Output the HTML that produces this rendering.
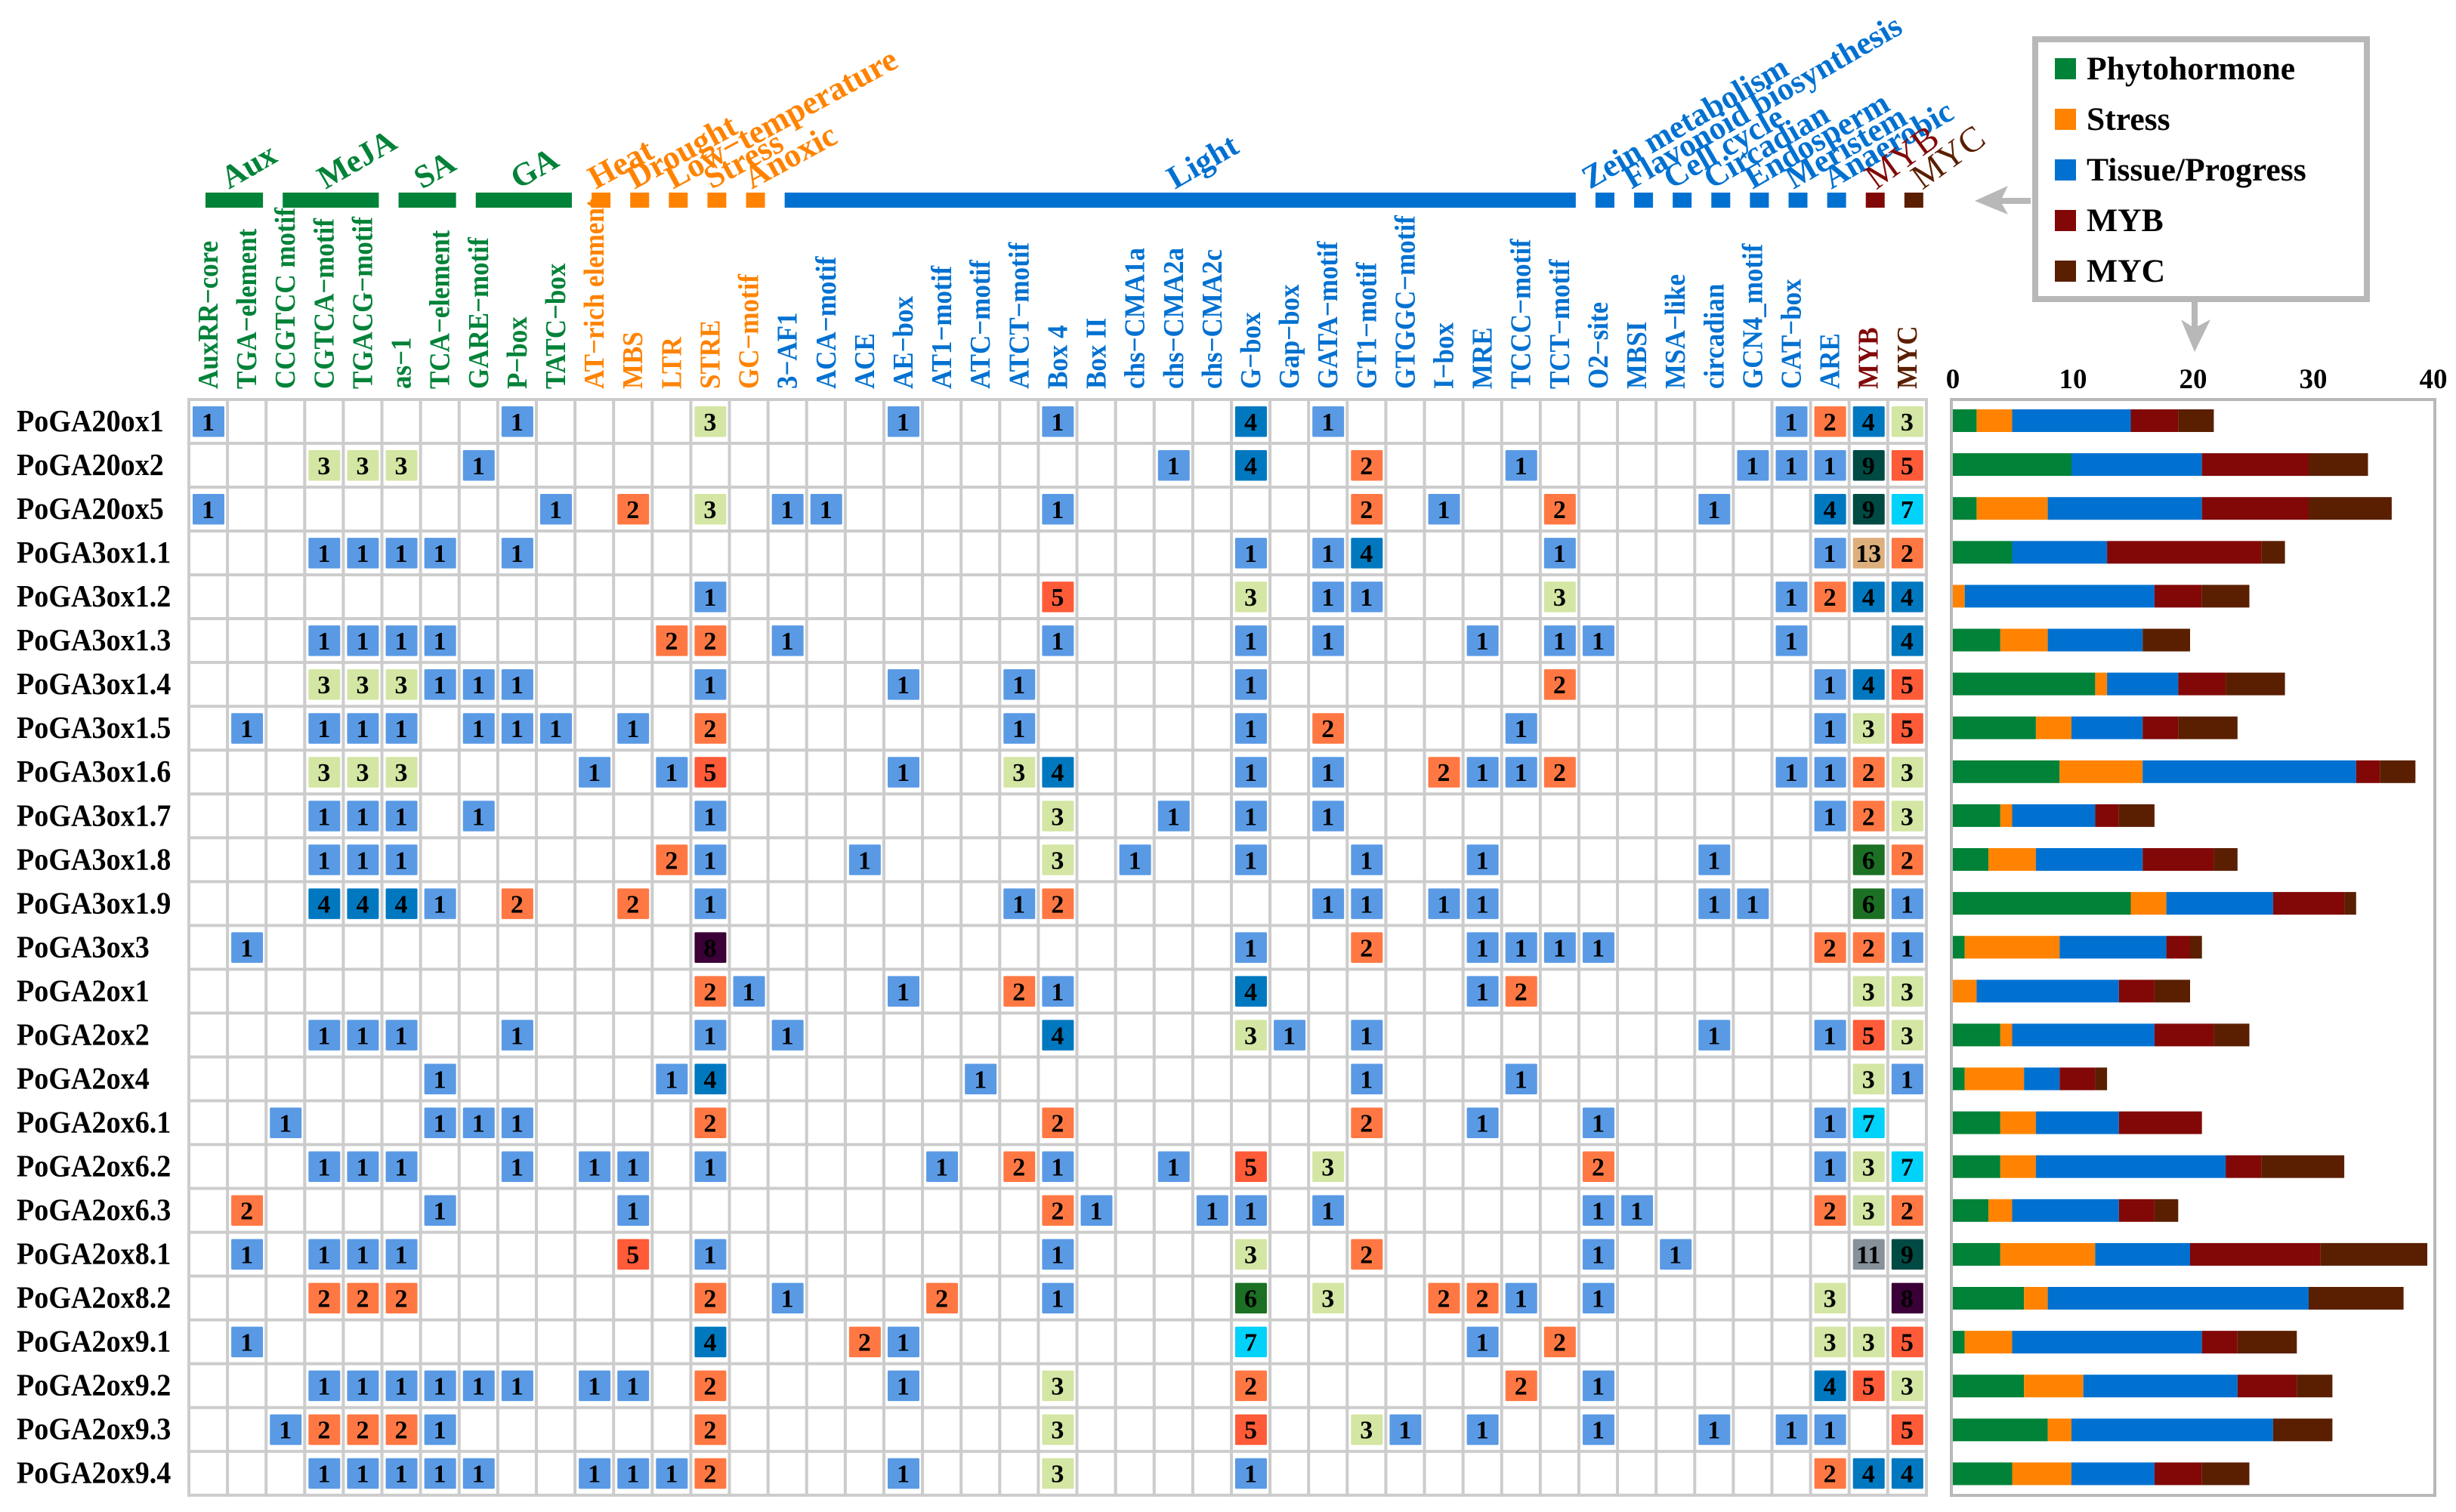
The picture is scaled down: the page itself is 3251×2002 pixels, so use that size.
<!DOCTYPE html>
<html lang="en">
<head>
<meta charset="utf-8">
<title>Cis-element heatmap and stacked bars</title>
<style>
html,body{margin:0;padding:0;background:#fff;width:3251px;height:2002px;overflow:hidden}
svg{display:block}
text{font-family:"Liberation Serif","Times New Roman",serif;font-weight:bold}
</style>
</head>
<body>
<svg id="chart" xmlns="http://www.w3.org/2000/svg" width="3251" height="2002" viewBox="0 0 3251 2002">
  <rect x="0" y="0" width="3251" height="2002" fill="#ffffff"/>
  <g id="gridLayer"></g>
  <g id="groupBarLayer"></g>
  <g id="groupLabelLayer"></g>
  <g id="colLabelLayer"></g>
  <g id="rowLabelLayer"></g>
  <g id="cellLayer"></g>
  <g id="barLayer"></g>
  <g id="tickLayer"></g>
  <rect x="2583" y="529" width="640" height="1451" fill="none" stroke="#b8b8b8" stroke-width="4"/>

  <polygon points="2614,266 2658,246 2650,262 2688,262 2688,270 2650,270 2658,284" fill="#b8b8b8"/>
  <polygon points="2905,466 2887,423 2901,432 2901,398 2909,398 2909,432 2926,423" fill="#b8b8b8"/>

  <g>
    <rect x="2694" y="52" width="439" height="344" fill="#ffffff" stroke="#b8b8b8" stroke-width="8"/>
    <rect x="2720" y="77" width="28" height="28" fill="#008238"/>
    <text x="2762" y="105" font-size="43.6" fill="#000">Phytohormone</text>
    <rect x="2720" y="144" width="28" height="28" fill="#ff8300"/>
    <text x="2762" y="172" font-size="43.6" fill="#000">Stress</text>
    <rect x="2720" y="211" width="28" height="28" fill="#0071d1"/>
    <text x="2762" y="239" font-size="43.6" fill="#000">Tissue/Progress</text>
    <rect x="2720" y="278" width="28" height="28" fill="#820808"/>
    <text x="2762" y="306" font-size="43.6" fill="#000">MYB</text>
    <rect x="2720" y="345" width="28" height="28" fill="#5a1f00"/>
    <text x="2762" y="373" font-size="43.6" fill="#000">MYC</text>
  </g>
</svg>

<script>
var genes = ["PoGA20ox1","PoGA20ox2","PoGA20ox5","PoGA3ox1.1","PoGA3ox1.2","PoGA3ox1.3","PoGA3ox1.4","PoGA3ox1.5","PoGA3ox1.6","PoGA3ox1.7","PoGA3ox1.8","PoGA3ox1.9","PoGA3ox3","PoGA2ox1","PoGA2ox2","PoGA2ox4","PoGA2ox6.1","PoGA2ox6.2","PoGA2ox6.3","PoGA2ox8.1","PoGA2ox8.2","PoGA2ox9.1","PoGA2ox9.2","PoGA2ox9.3","PoGA2ox9.4"];

var motifs = ["AuxRR\u2212core","TGA\u2212element","CCGTCC motif","CGTCA\u2212motif","TGACG\u2212motif","as\u22121","TCA\u2212element","GARE\u2212motif","P\u2212box","TATC\u2212box","AT\u2212rich element","MBS","LTR","STRE","GC\u2212motif","3\u2212AF1","ACA\u2212motif","ACE","AE\u2212box","AT1\u2212motif","ATC\u2212motif","ATCT\u2212motif","Box 4","Box II","chs\u2212CMA1a","chs\u2212CMA2a","chs\u2212CMA2c","G\u2212box","Gap\u2212box","GATA\u2212motif","GT1\u2212motif","GTGGC\u2212motif","I\u2212box","MRE","TCCC\u2212motif","TCT\u2212motif","O2\u2212site","MBSI","MSA\u2212like","circadian","GCN4_motif","CAT\u2212box","ARE","MYB","MYC"];

var motifCategory = ["p","p","p","p","p","p","p","p","p","p","s","s","s","s","s","t","t","t","t","t","t","t","t","t","t","t","t","t","t","t","t","t","t","t","t","t","t","t","t","t","t","t","t","b","c"];

var groupNames = ["Aux","MeJA","SA","GA","Heat","Drought","Low\u2212temperature","Stress","Anoxic","Light","Zein metabolism","Flavonoid biosynthesis","Cell cycle","Circadian","Endosperm","Meristem","Anaerobic","MYB","MYC"];
var groupSpans = [2,3,2,3,1,1,1,1,1,21,1,1,1,1,1,1,1,1,1];

var cellCounts = [
[1,0,0,0,0, 0,0,0,1,0, 0,0,0,3,0, 0,0,0,1,0, 0,0,1,0,0, 0,0,4,0,1, 0,0,0,0,0, 0,0,0,0,0, 0,1,2,4,3],
[0,0,0,3,3, 3,0,1,0,0, 0,0,0,0,0, 0,0,0,0,0, 0,0,0,0,0, 1,0,4,0,0, 2,0,0,0,1, 0,0,0,0,0, 1,1,1,9,5],
[1,0,0,0,0, 0,0,0,0,1, 0,2,0,3,0, 1,1,0,0,0, 0,0,1,0,0, 0,0,0,0,0, 2,0,1,0,0, 2,0,0,0,1, 0,0,4,9,7],
[0,0,0,1,1, 1,1,0,1,0, 0,0,0,0,0, 0,0,0,0,0, 0,0,0,0,0, 0,0,1,0,1, 4,0,0,0,0, 1,0,0,0,0, 0,0,1,13,2],
[0,0,0,0,0, 0,0,0,0,0, 0,0,0,1,0, 0,0,0,0,0, 0,0,5,0,0, 0,0,3,0,1, 1,0,0,0,0, 3,0,0,0,0, 0,1,2,4,4],
[0,0,0,1,1, 1,1,0,0,0, 0,0,2,2,0, 1,0,0,0,0, 0,0,1,0,0, 0,0,1,0,1, 0,0,0,1,0, 1,1,0,0,0, 0,1,0,0,4],
[0,0,0,3,3, 3,1,1,1,0, 0,0,0,1,0, 0,0,0,1,0, 0,1,0,0,0, 0,0,1,0,0, 0,0,0,0,0, 2,0,0,0,0, 0,0,1,4,5],
[0,1,0,1,1, 1,0,1,1,1, 0,1,0,2,0, 0,0,0,0,0, 0,1,0,0,0, 0,0,1,0,2, 0,0,0,0,1, 0,0,0,0,0, 0,0,1,3,5],
[0,0,0,3,3, 3,0,0,0,0, 1,0,1,5,0, 0,0,0,1,0, 0,3,4,0,0, 0,0,1,0,1, 0,0,2,1,1, 2,0,0,0,0, 0,1,1,2,3],
[0,0,0,1,1, 1,0,1,0,0, 0,0,0,1,0, 0,0,0,0,0, 0,0,3,0,0, 1,0,1,0,1, 0,0,0,0,0, 0,0,0,0,0, 0,0,1,2,3],
[0,0,0,1,1, 1,0,0,0,0, 0,0,2,1,0, 0,0,1,0,0, 0,0,3,0,1, 0,0,1,0,0, 1,0,0,1,0, 0,0,0,0,1, 0,0,0,6,2],
[0,0,0,4,4, 4,1,0,2,0, 0,2,0,1,0, 0,0,0,0,0, 0,1,2,0,0, 0,0,0,0,1, 1,0,1,1,0, 0,0,0,0,1, 1,0,0,6,1],
[0,1,0,0,0, 0,0,0,0,0, 0,0,0,8,0, 0,0,0,0,0, 0,0,0,0,0, 0,0,1,0,0, 2,0,0,1,1, 1,1,0,0,0, 0,0,2,2,1],
[0,0,0,0,0, 0,0,0,0,0, 0,0,0,2,1, 0,0,0,1,0, 0,2,1,0,0, 0,0,4,0,0, 0,0,0,1,2, 0,0,0,0,0, 0,0,0,3,3],
[0,0,0,1,1, 1,0,0,1,0, 0,0,0,1,0, 1,0,0,0,0, 0,0,4,0,0, 0,0,3,1,0, 1,0,0,0,0, 0,0,0,0,1, 0,0,1,5,3],
[0,0,0,0,0, 0,1,0,0,0, 0,0,1,4,0, 0,0,0,0,0, 1,0,0,0,0, 0,0,0,0,0, 1,0,0,0,1, 0,0,0,0,0, 0,0,0,3,1],
[0,0,1,0,0, 0,1,1,1,0, 0,0,0,2,0, 0,0,0,0,0, 0,0,2,0,0, 0,0,0,0,0, 2,0,0,1,0, 0,1,0,0,0, 0,0,1,7,0],
[0,0,0,1,1, 1,0,0,1,0, 1,1,0,1,0, 0,0,0,0,1, 0,2,1,0,0, 1,0,5,0,3, 0,0,0,0,0, 0,2,0,0,0, 0,0,1,3,7],
[0,2,0,0,0, 0,1,0,0,0, 0,1,0,0,0, 0,0,0,0,0, 0,0,2,1,0, 0,1,1,0,1, 0,0,0,0,0, 0,1,1,0,0, 0,0,2,3,2],
[0,1,0,1,1, 1,0,0,0,0, 0,5,0,1,0, 0,0,0,0,0, 0,0,1,0,0, 0,0,3,0,0, 2,0,0,0,0, 0,1,0,1,0, 0,0,0,11,9],
[0,0,0,2,2, 2,0,0,0,0, 0,0,0,2,0, 1,0,0,0,2, 0,0,1,0,0, 0,0,6,0,3, 0,0,2,2,1, 0,1,0,0,0, 0,0,3,0,8],
[0,1,0,0,0, 0,0,0,0,0, 0,0,0,4,0, 0,0,2,1,0, 0,0,0,0,0, 0,0,7,0,0, 0,0,0,1,0, 2,0,0,0,0, 0,0,3,3,5],
[0,0,0,1,1, 1,1,1,1,0, 1,1,0,2,0, 0,0,0,1,0, 0,0,3,0,0, 0,0,2,0,0, 0,0,0,0,2, 0,1,0,0,0, 0,0,4,5,3],
[0,0,1,2,2, 2,1,0,0,0, 0,0,0,2,0, 0,0,0,0,0, 0,0,3,0,0, 0,0,5,0,0, 3,1,0,1,0, 0,1,0,0,1, 0,1,1,0,5],
[0,0,0,1,1, 1,1,1,0,0, 1,1,1,2,0, 0,0,0,1,0, 0,0,3,0,0, 0,0,1,0,0, 0,0,0,0,0, 0,0,0,0,0, 0,0,2,4,4]
];

var phytohormone = [2,10,2,5,0,4,12,7,9,4,3,15,1,0,4,1,4,4,3,4,6,1,6,8,5];
var stress       = [3,0,6,0,1,4,1,3,7,1,4,3,8,2,1,5,3,3,2,8,2,4,5,2,5];
var tissue       = [10,11,13,8,16,8,6,6,18,7,9,9,9,12,12,3,7,16,9,8,22,16,13,17,7];
var myb          = [4,9,9,13,4,0,4,3,2,2,6,6,2,3,5,3,7,3,3,11,0,3,5,0,4];
var myc          = [3,5,7,2,4,4,5,5,3,3,2,1,1,3,3,1,0,7,2,9,8,5,3,5,4];

var seriesNames = ["phytohormone","stress","tissue","myb","myc"];
var tickValues = [0,10,20,30,40];

var NS = "http://www.w3.org/2000/svg";
var categoryColors = {p:"#008238", s:"#ff8300", t:"#0071d1", b:"#820808", c:"#5a1f00"};
var seriesColors = ["#008238","#ff8300","#0071d1","#820808","#5a1f00"];
var cellColors = {1:"#5a9ae5",2:"#ff7843",3:"#d3e6a3",4:"#0078c0",5:"#ff5b38",6:"#1b7024",7:"#00d2fa",8:"#3a0037",9:"#004a44",11:"#87919a",13:"#dcaf7d"};
var groupColors = ["p","p","p","p","s","s","s","s","s","t","t","t","t","t","t","t","t","b","c"];
var groupLabelStyle = {
  p:{size:43, angle:-30, weight:"bold", y:251},
  s:{size:44, angle:-28.5, weight:"bold", y:251},
  t:{size:43, angle:-30, weight:"bold", y:251},
  b:{size:47, angle:-36, weight:"normal", y:252},
  c:{size:47, angle:-36, weight:"normal", y:252}
};
var groupLabelShift = [-7,-7,-7,-7,-7,-7,-7,-7,-5,-7,-20,-16,-14,-12,-9,-6,-7,1,11];

var gridLeft = 250, gridTop = 529, colStep = 51.11, rowStep = 58.03;
function xCol(i){ return gridLeft + colStep * i; }
function yRow(i){ return gridTop + rowStep * i; }
function xBar(v){ return 2585 + 15.7 * v; }
function xTick(v){ return 2585 + 15.9 * v; }
function yBarCenter(i){ return 557 + 58.1 * i; }

function mk(tag, attrs, parent, txt){
  var el = document.createElementNS(NS, tag);
  for (var k in attrs) el.setAttribute(k, attrs[k]);
  if (txt !== undefined) el.textContent = txt;
  parent.appendChild(el);
  return el;
}

var gridLayer = document.getElementById("gridLayer");
for (var c = 0; c <= motifs.length; c++){
  var vLine = mk("line", {x1:xCol(c), x2:xCol(c), y1:gridTop-2, y2:yRow(genes.length)+2, stroke:"#cccccc", "stroke-width":4}, gridLayer);
  
  
}
for (var r = 0; r <= genes.length; r++){
  var hLine = mk("line", {x1:gridLeft-2, x2:xCol(motifs.length)+2, y1:yRow(r), y2:yRow(r), stroke:"#cccccc", "stroke-width":4}, gridLayer);
  
  
}

var groupBarLayer = document.getElementById("groupBarLayer");
var groupLabelLayer = document.getElementById("groupLabelLayer");
var groupStart = 0;
for (var g = 0; g < groupNames.length; g++){
  var gx = 272 + colStep * groupStart;
  var gw = 25 + colStep * (groupSpans[g] - 1);
  var gColor = categoryColors[groupColors[g]];
  var gStyle = groupLabelStyle[groupColors[g]];
  var gBar = mk("rect", {x:gx, y:255, width:gw, height:20, fill:gColor}, groupBarLayer);
  
  
  var lx = gx + gw / 2 + groupLabelShift[g];
  var gLabel = mk("text", {x:lx, y:gStyle.y, "font-size":gStyle.size, "font-weight":gStyle.weight, style:"font-weight:" + gStyle.weight, fill:gColor, transform:"rotate(" + gStyle.angle + " " + lx + " " + gStyle.y + ")"}, groupLabelLayer, groupNames[g]);
  
  
  groupStart += groupSpans[g];
}

var colLabelLayer = document.getElementById("colLabelLayer");
for (var m = 0; m < motifs.length; m++){
  var bx = 288 + colStep * m;
  var mLabel = mk("text", {x:0, y:0, "font-size":35, fill:categoryColors[motifCategory[m]], transform:"translate(" + bx + " 515) rotate(-90) scale(1 1.08)"}, colLabelLayer, motifs[m]);
  
  
}

var rowLabelLayer = document.getElementById("rowLabelLayer");
for (var n = 0; n < genes.length; n++){
  var ry = yRow(n) + 29 + 13;
  var rLabel = mk("text", {x:0, y:0, "font-size":41, fill:"#000", transform:"translate(22 " + ry + ") scale(0.93 1)"}, rowLabelLayer, genes[n]);
  
  
}

var cellLayer = document.getElementById("cellLayer");
for (var i = 0; i < genes.length; i++){
  for (var j = 0; j < motifs.length; j++){
    var val = cellCounts[i][j];
    if (!val) continue;
    var cell = mk("rect", {x:xCol(j)+5, y:yRow(i)+9, width:42, height:40.5, rx:1.5, fill:cellColors[val]}, cellLayer);
    
    
    var cellText = mk("text", {x:xCol(j)+25.5, y:yRow(i)+41, "font-size":34, "text-anchor":"middle", fill:"#000"}, cellLayer, String(val));
    
    
  }
}

var barLayer = document.getElementById("barLayer");
var allSeries = [phytohormone, stress, tissue, myb, myc];
for (var b = 0; b < genes.length; b++){
  var acc = 0;
  for (var s = 0; s < allSeries.length; s++){
    var v = allSeries[s][b];
    if (!v) continue;
    var seg = mk("rect", {x:xBar(acc), y:yBarCenter(b)-15, width:xBar(acc+v)-xBar(acc), height:30, fill:seriesColors[s]}, barLayer);
    
    
    acc += v;
  }
}

var tickLayer = document.getElementById("tickLayer");
for (var t = 0; t < tickValues.length; t++){
  var tk = mk("text", {x:xTick(tickValues[t]), y:514, "font-size":37, "text-anchor":"middle", fill:"#000"}, tickLayer, String(tickValues[t]));
  
  
}
</script>
</body>
</html>
